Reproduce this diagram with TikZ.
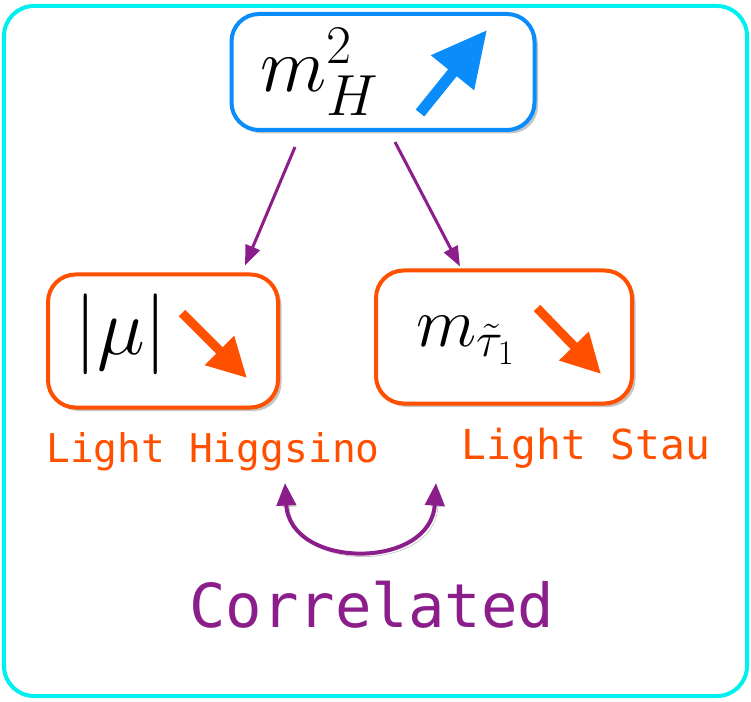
\RequirePackage{fix-cm}
\documentclass[tikz,border=0pt]{standalone}
\usepackage{amsmath,amssymb}
\usepackage{fontspec}
\setmonofont{DejaVu Sans Mono}
\usepackage{tikz}
\usetikzlibrary{arrows.meta,positioning,calc,shadows}

\newcommand{\msize}[2]{\text{\fontsize{#1}{#1}\selectfont$#2$}}

\definecolor{hblue}{RGB}{10,140,250}
\definecolor{sorange}{RGB}{255,80,0}
\definecolor{cpurple}{RGB}{140,30,140}
\definecolor{fcyan}{RGB}{0,240,240}

\begin{document}
\begin{tikzpicture}[
    panel/.style={
        draw=fcyan,
        line width=0.08cm,
        rounded corners=0.6cm,
        minimum width=14.86cm,
        minimum height=13.80cm,
        fill=white
    },
    mbox/.style={
        line width=0.08cm,
        rounded corners=0.55cm,
        fill=white,
        drop shadow={shadow xshift=0.07cm,shadow yshift=-0.07cm,opacity=0.45}
    },
    upbox/.style={mbox, draw=hblue, minimum width=6.06cm, minimum height=2.32cm},
    downbox/.style={mbox, draw=sorange, minimum height=2.66cm},
    tag/.style={text=sorange, font=\ttfamily\fontsize{22.5}{26}\selectfont},
    soft/.style={preaction={draw=black!22, transform canvas={shift={(0.06,-0.06)}}}},
    bigup/.style={soft, hblue, line width=0.22cm, -{Triangle[length=1.1cm,width=1.05cm]}},
    bigdown/.style={soft, sorange, line width=0.18cm, -{Triangle[length=0.78cm,width=0.78cm]}},
    link/.style={cpurple, line width=0.06cm, -{Triangle[length=0.4cm,width=0.3cm]}}
]
\useasboundingbox (0,0) rectangle (15.02,-14.04);

\node[panel] (frame) at (7.51,-7.02) {};

\node[upbox] (hmass) at (7.66,-1.44) {};
\node[downbox, minimum width=4.6cm] (mubox) at (3.26,-6.82) {};
\node[downbox, minimum width=5.12cm] (staubox) at (10.08,-6.74) {};

\node[inner sep=0pt] (hmassmath) at (6.40,-1.44)
    {\fontsize{44}{50}\selectfont$m_{\msize{33}{H}}^{\msize{31}{2}}$};
\node[inner sep=0pt] (mumath) at (2.42,-6.68) {\fontsize{46}{50}\selectfont$|\mu|$};
\node[inner sep=0pt] (staumath) at (9.32,-6.80)
    {\fontsize{40}{44}\selectfont$m_{\msize{28}{\tilde{\tau}_1}}$};

\draw[bigup] (8.40,-2.26) -- (9.74,-0.60);
\draw[bigdown] (3.64,-6.26) -- (4.94,-7.56);
\draw[bigdown] (10.74,-6.16) -- (12.02,-7.48);

\node[tag] (higgsino) at (4.26,-9.04) {Light Higgsino};
\node[tag, font=\ttfamily\fontsize{23.5}{27}\selectfont] (stau) at (11.72,-8.96) {Light Stau};

\draw[link] ([xshift=-1.76cm,yshift=-0.3cm]hmass.south) -- ([xshift=1.64cm,yshift=0.14cm]mubox.north);
\draw[link] ([xshift=0.24cm,yshift=-0.2cm]hmass.south) -- ([xshift=-0.88cm,yshift=0.04cm]staubox.north);

\coordinate (corrleft) at ($(higgsino.center)+(1.44,-0.62)$);
\coordinate (corrright) at ($(stau.center)+(-3.0,-0.70)$);
\draw[link, soft, line width=0.08cm, {Triangle[length=0.45cm,width=0.38cm]}-{Triangle[length=0.45cm,width=0.38cm]}]
    (corrleft) .. controls ($(corrleft)+(0.1,-1.74)$) and ($(corrright)+(-0.1,-1.74)$) .. (corrright);

\node[text=cpurple, font=\ttfamily\fontsize{34.5}{40}\selectfont] (corr) at (7.44,-12.10) {Correlated};

\end{tikzpicture}
\end{document}
